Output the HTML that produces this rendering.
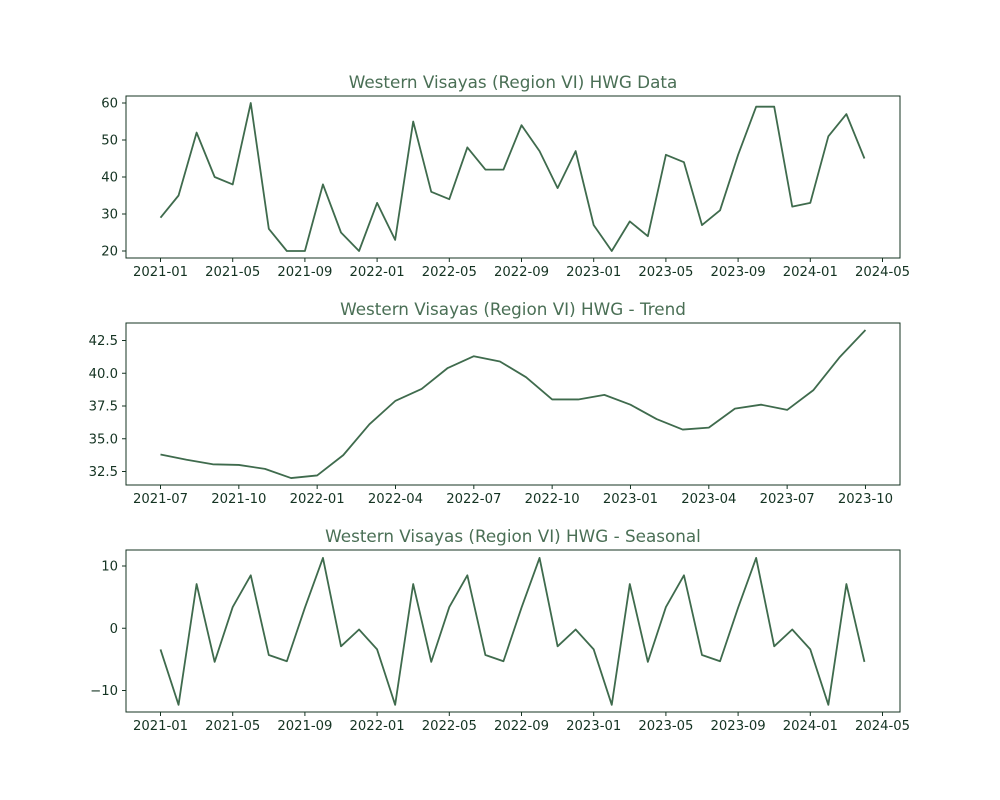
<!DOCTYPE html>
<html><head><meta charset="utf-8"><style>
body{margin:0;background:#fff;}
svg{display:block;font-family:"DejaVu Sans","Liberation Sans",sans-serif;}
</style></head><body>
<svg id="fig" width="1000" height="800" viewBox="0 0 1000 800" xmlns="http://www.w3.org/2000/svg"></svg>
<script>
const dataValues=[29,35,52,40,38,60,26,20,20,38,25,20,33,23,55,36,34,48,42,42,54,47,37,47,27,20,28,24,46,44,27,31,46,59,59,32,33,51,57,45];
const trendValues=[33.8,33.4,33.05,33.0,32.7,32.0,32.2,33.75,36.1,37.9,38.8,40.4,41.3,40.9,39.7,38.0,38.0,38.35,37.6,36.5,35.7,35.85,37.3,37.6,37.2,38.7,41.2,43.3];
const seasonalPattern=[-3.4,-12.3,7.1,-5.4,3.4,8.5,-4.3,-5.3,3.3,11.3,-2.9,-0.2];
const seasonalValues=dataValues.map((_,i)=>seasonalPattern[i%12]);
const xTicks1=["2021-01","2021-05","2021-09","2022-01","2022-05","2022-09","2023-01","2023-05","2023-09","2024-01","2024-05"];
const xTicks2=["2021-07","2021-10","2022-01","2022-04","2022-07","2022-10","2023-01","2023-04","2023-07","2023-10"];
const yTicks1=[20,30,40,50,60];
const yTicks2=[32.5,35.0,37.5,40.0,42.5];
const yTicks3=[-10,0,10];

const svg=document.getElementById('fig');
const NS="http://www.w3.org/2000/svg";
const LC="#3f6b4d", AX="#143322", TX="#143322", TC="#4a6f55";
function mk(tag,attrs,parent){const e=document.createElementNS(NS,tag);for(const k in attrs)e.setAttribute(k,attrs[k]);(parent||svg).appendChild(e);return e;}

function panel(o){
  const g=mk('g',{});
  
  
  const sx=i=>o.x0+i*o.dx;
  const sy=v=>o.yA+(v-o.vA)*(o.yB-o.yA)/(o.vB-o.vA);
  const t=mk('text',{x:(o.L+o.R)/2,y:o.T-8,'text-anchor':'middle','font-size':16.8,fill:TC},g);
  t.textContent=o.title;
  
  
  o.xt.forEach((lab,k)=>{
    const x=sx(k*o.step);
    mk('line',{x1:x,x2:x,y1:o.B,y2:o.B+4,stroke:AX,'stroke-width':1},g);
    const tx=mk('text',{x:x,y:o.B+18,'text-anchor':'middle','font-size':13.2,fill:TX},g);
    tx.textContent=lab;
    
    
  });
  o.yt.forEach(v=>{
    const y=sy(v);
    mk('line',{x1:o.L-4,x2:o.L,y1:y,y2:y,stroke:AX,'stroke-width':1},g);
    const ty=mk('text',{x:o.L-8,y:y+4.5,'text-anchor':'end','font-size':13.2,fill:TX},g);
    ty.textContent=o.fmt?o.fmt(v):String(v);
    
    
  });
  const p=mk('polyline',{points:o.vals.map((v,i)=>sx(i)+','+sy(v)).join(' '),fill:'none',stroke:LC,'stroke-width':1.8,'stroke-linejoin':'round'},g);
  
  
  const r=mk('rect',{x:o.L,y:o.T,width:o.R-o.L,height:o.B-o.T,fill:'none',stroke:AX,'stroke-width':1},g);
  
  
}
panel({name:'data-panel',title:'Western Visayas (Region VI) HWG Data',L:126,R:900,T:96,B:258,x0:160.5,dx:18.05,step:4,
  vA:60,yA:103,vB:20,yB:251,vals:dataValues,xt:xTicks1,yt:yTicks1});
panel({name:'trend-panel',title:'Western Visayas (Region VI) HWG - Trend',L:126,R:900,T:323,B:485,x0:160.5,dx:26.11,step:3,
  vA:42.5,yA:340.5,vB:32.5,yB:471.5,vals:trendValues,xt:xTicks2,yt:yTicks2,fmt:v=>v.toFixed(1)});
panel({name:'seasonal-panel',title:'Western Visayas (Region VI) HWG - Seasonal',L:126,R:900,T:550,B:712,x0:160.5,dx:18.05,step:4,
  vA:10,yA:566,vB:-10,yB:690.5,vals:seasonalValues,xt:xTicks1,yt:yTicks3,fmt:v=>v<0?'\u2212'+Math.abs(v):String(v)});
</script>
</body></html>
